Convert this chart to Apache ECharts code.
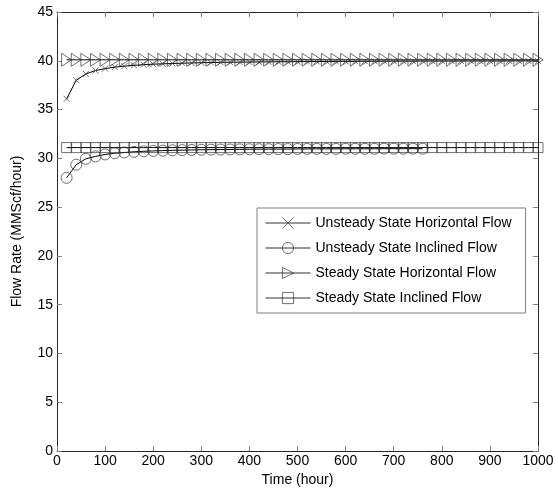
<!DOCTYPE html>
<html>
<head>
<meta charset="utf-8">
<script src="https://cdn.jsdelivr.net/npm/echarts@6/dist/echarts.min.js"></script>
<style>
html,body{margin:0;padding:0;background:#fff;}
#chart{width:558px;height:492px;}
</style>
</head>
<body>
<div id="chart"></div>
<script>
// Time points (hours)
const timeSteps = [20,40,60,80,100,120,140,160,180,200,220,240,260,280,300,320,340,360,380,400,
  420,440,460,480,500,520,540,560,580,600,620,640,660,680,700,720,740,760,780,800,
  820,840,860,880,900,920,940,960,980,1000];
const timeStepsInclined = timeSteps.slice(0, 38); // unsteady inclined ends at 760

const unsteadyHorizontal = [36.1,38.0,38.65,39.0,39.2,39.35,39.45,39.53,39.6,39.65,
  39.69,39.72,39.75,39.78,39.8,39.82,39.84,39.85,39.86,39.87,
  39.88,39.89,39.9,39.9,39.91,39.92,39.92,39.93,39.93,39.94,
  39.94,39.95,39.95,39.95,39.96,39.96,39.96,39.97,39.97,39.97,
  39.97,39.98,39.98,39.98,39.98,39.98,39.99,39.99,39.99,39.99];
const unsteadyInclined = [28.0,29.35,29.95,30.2,30.4,30.52,30.6,30.67,30.72,30.76,
  30.79,30.82,30.84,30.86,30.88,30.89,30.9,30.91,30.92,30.93,
  30.94,30.94,30.95,30.95,30.96,30.96,30.97,30.97,30.97,30.98,
  30.98,30.98,30.98,30.99,30.99,30.99,30.99,30.99];
const steadyHorizontal = timeSteps.map(() => 40.1);
const steadyInclined = timeSteps.map(() => 31.1);

const seriesNames = ['Unsteady State Horizontal Flow','Unsteady State Inclined Flow',
  'Steady State Horizontal Flow','Steady State Inclined Flow'];
const xTicks = [0,100,200,300,400,500,600,700,800,900,1000];
const yTicks = [0,5,10,15,20,25,30,35,40,45];

const pair = (xs, ys) => xs.map((x, i) => [x, ys[i]]);

const chart = echarts.init(document.getElementById('chart'), null, {renderer:'canvas'});
const font = 'Arial, "Liberation Sans", sans-serif';
const axisCol = '#262626';
const tickCol = '#7f7f7f';
const fs = 14;

function mkSeries(name, data, symbol, size){
  return {
    name, type:'line', data, symbol, symbolSize:size,
    showAllSymbol:true,
    lineStyle:{color:'#000', width:1},
    itemStyle:{color:'rgba(255,255,255,0)', borderColor:'#333', borderWidth:0.7},
    emphasis:{disabled:true},
    animation:false, z:3
  };
}

const option = {
  animation:false,
  backgroundColor:'#fff',
  grid:{left:57, right:20, top:12, bottom:40, containLabel:false},
  legend:{
    orient:'vertical', left:257, top:208,
    itemWidth:45, itemHeight:14, itemGap:11,
    padding:[8,14,8,8],
    backgroundColor:'#fff', borderColor:'#7f7f7f', borderWidth:1, borderRadius:0,
    textStyle:{fontFamily:font, fontSize:fs, color:'#000'},
    lineStyle:{width:1, color:'#333'},
    itemStyle:{color:'rgba(255,255,255,0)', borderColor:'#333', borderWidth:0.7},
    data:seriesNames
  },
  xAxis:[{
    type:'value', min:0, max:1000, interval:100,
    name:'Time (hour)', nameLocation:'middle', nameGap:22,
    nameTextStyle:{fontFamily:font, fontSize:fs, color:'#000'},
    axisLine:{show:true, onZero:false, lineStyle:{color:axisCol, width:1}},
    axisTick:{show:true, inside:true, length:5, lineStyle:{color:tickCol}},
    axisLabel:{fontFamily:font, fontSize:fs, color:'#000', margin:3,
      formatter: v => xTicks.includes(v) ? String(v) : ''},
    splitLine:{show:false}
  },{
    type:'value', min:0, max:1000, interval:100, position:'top',
    axisLine:{show:true, onZero:false, lineStyle:{color:axisCol, width:1}},
    axisTick:{show:true, inside:true, length:5, lineStyle:{color:tickCol}},
    axisLabel:{show:false}, splitLine:{show:false}
  }],
  yAxis:[{
    type:'value', min:0, max:45, interval:5,
    name:'Flow Rate (MMScf/hour)', nameLocation:'middle', nameGap:33, nameRotate:90,
    nameTextStyle:{fontFamily:font, fontSize:fs, color:'#000'},
    axisLine:{show:true, onZero:false, lineStyle:{color:axisCol, width:1}},
    axisTick:{show:true, inside:true, length:5, lineStyle:{color:tickCol}},
    axisLabel:{fontFamily:font, fontSize:fs, color:'#000', margin:4,
      formatter: v => yTicks.includes(v) ? String(v) : ''},
    splitLine:{show:false}
  },{
    type:'value', min:0, max:45, interval:5, position:'right',
    axisLine:{show:true, onZero:false, lineStyle:{color:axisCol, width:1}},
    axisTick:{show:true, inside:true, length:5, lineStyle:{color:tickCol}},
    axisLabel:{show:false}, splitLine:{show:false}
  }],
  series:[
    mkSeries(seriesNames[0], pair(timeSteps, unsteadyHorizontal), 'path://M0,0L10,10M10,0L0,10', 6),
    mkSeries(seriesNames[1], pair(timeStepsInclined, unsteadyInclined), 'circle', 11),
    mkSeries(seriesNames[2], pair(timeSteps, steadyHorizontal), 'path://M0,0L10,5L0,10Z', [10,13]),
    mkSeries(seriesNames[3], pair(timeSteps, steadyInclined), 'rect', 10)
  ]
};
chart.setOption(option);
</script>
</body>
</html>
